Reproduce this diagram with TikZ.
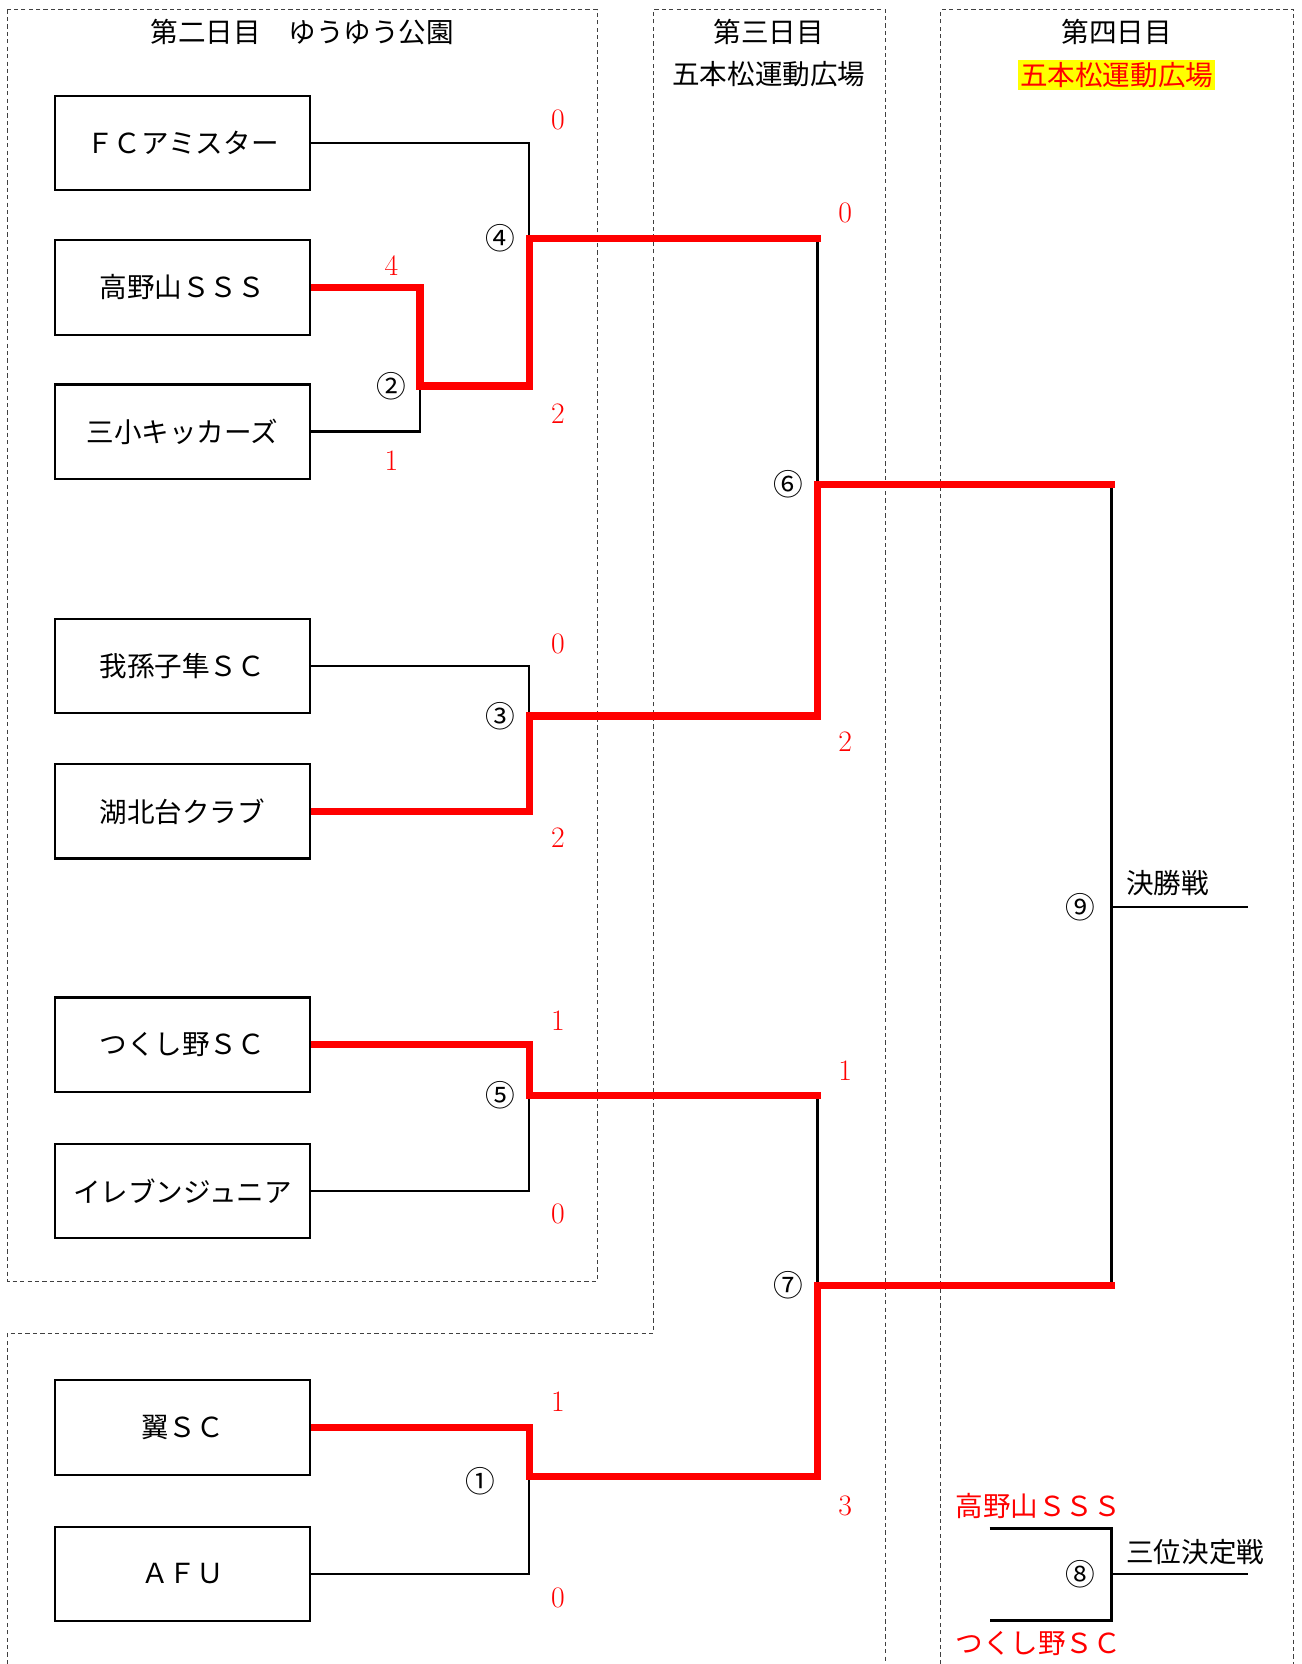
\documentclass[tikz,border=0pt]{standalone}
\usepackage{fontspec}
\newfontfamily\jp{Noto Sans CJK JP}
\definecolor{myred}{RGB}{255,0,0}
\definecolor{myyellow}{RGB}{255,255,0}
\usetikzlibrary{positioning,calc}

\begin{document}
\begin{tikzpicture}[x=1pt,y=-1pt,
    every node/.style={font=\jp\fontsize{26}{30}\selectfont,inner sep=1pt},
    team/.style={draw,line width=2pt,minimum width=240pt,minimum height=89pt,inner sep=0pt},
    win/.style={myred,line width=7pt,shorten >=-3.5pt},
    lose/.style={line width=2.4pt},
    zone/.style={black!75,line width=0.9pt,dash pattern=on 4pt off 3pt},
    score/.style={text=myred,font=\fontsize{28}{32}\selectfont},
    mno/.style={font=\jp\fontsize{28}{32}\selectfont},
    node distance=12pt
    ]
    \useasboundingbox (0,0) rectangle (1227,1569);

    % the areas
    \draw[zone] (7,9) rectangle (563,1208);
    \draw[zone] (7,1569) -- (7,1257) -- (616,1257) -- (616,9) -- (835,9) -- (835,1569);
    \draw[zone] (887,1569) -- (887,9) -- (1220,9) -- (1220,1569);

    \node (d2) at (285,30) {第二日目　ゆうゆう公園};
    \node (d3) at (725,30) {第三日目};
    \node (v3) at (725,70) {五本松運動広場};
    \node (d4) at (1053,30) {第四日目};
    \node (v4) [fill=myyellow,text=myred,inner xsep=2pt,inner ysep=2pt] at (1053,71) {五本松運動広場};

    \node (fc) [team] at (172,135) {ＦＣアミスター};
    \node (tk) [team] at (172,271) {高野山ＳＳＳ};
    \node (sk) [team] at (172,407) {三小キッカーズ};
    \node (ab) [team] at (172,628) {我孫子隼ＳＣ};
    \node (kh) [team] at (172,765) {湖北台クラブ};
    \node (ts) [team] at (172,985) {つくし野ＳＣ};
    \node (el) [team] at (172,1123) {イレブンジュニア};
    \node (tb) [team] at (172,1346) {翼ＳＣ};
    \node (af) [team] at (172,1484) {ＡＦＵ};

    \coordinate (j2) at (396,364);
    \coordinate (j4) at (499,225);
    \coordinate (j3) at (499,675);
    \coordinate (j5) at (499,1033);
    \coordinate (j1) at (499,1392);
    \coordinate (j6) at (771,457);
    \coordinate (j7) at (771,1212);
    \coordinate (j9) at (1048,855);
    \coordinate (j8) at (1048,1484);
    \coordinate (fin) at (1177,855);
    \coordinate (thd) at (1177,1484);
    \coordinate (p1) at (933,1441);
    \coordinate (p2) at (933,1528);

    % the edges
    \draw[lose] (fc.east) -| (j4);
    \draw[lose] (sk.east) -| (j2);
    \draw[lose] (ab.east) -| (j3);
    \draw[lose] (el.east) -| (j5);
    \draw[lose] (af.east) -| (j1);
    \draw[lose] (j6 |- j4) -- (j6);
    \draw[lose] (j7 |- j5) -- (j7);
    \draw[lose] (j9 |- j6) -- (j9 |- j7);
    \draw[lose] (j9) -- (fin);
    \draw[lose] (p1) -| (j8) |- (p2);
    \draw[lose] (j8) -- (thd);

    \draw[win] (tk.east) -| (j2) -| (j4) -- (j6 |- j4);
    \draw[win] (kh.east) -| (j3) -| (j6) -- (j9 |- j6);
    \draw[win] (ts.east) -| (j5) -- (j7 |- j5);
    \draw[win] (tb.east) -| (j1) -| (j7) -- (j9 |- j7);

    \node (n2) [mno,left=of j2] {②};
    \node (n4) [mno,left=of j4] {④};
    \node (n3) [mno,left=of j3] {③};
    \node (n5) [mno,left=of j5] {⑤};
    \node (n1) [mno] at (453,1397) {①};
    \node (n6) [mno,left=of j6] {⑥};
    \node (n7) [mno,left=of j7] {⑦};
    \node (n9) [mno,left=14pt of j9] {⑨};
    \node (n8) [mno,left=14pt of j8] {⑧};

    \node (s2a) [score] at (369,250) {4};
    \node (s2b) [score] at (369,434) {1};
    \node (s4a) [score] at (526,113) {0};
    \node (s4b) [score] at (526,390) {2};
    \node (s3a) [score] at (526,607) {0};
    \node (s3b) [score] at (526,790) {2};
    \node (s5a) [score] at (526,962) {1};
    \node (s5b) [score] at (526,1145) {0};
    \node (s1a) [score] at (526,1322) {1};
    \node (s1b) [score] at (526,1507) {0};
    \node (s6a) [score] at (797,201) {0};
    \node (s6b) [score] at (797,699) {2};
    \node (s7a) [score] at (797,1010) {1};
    \node (s7b) [score] at (797,1420) {3};

    \node (fl) at (1101,833) {決勝戦};
    \node (tl) at (1127,1463) {三位決定戦};
    \node (q1) [text=myred] at (979,1420) {高野山ＳＳＳ};
    \node (q2) [text=myred] at (979,1550) {つくし野ＳＣ};
\end{tikzpicture}
\end{document}
